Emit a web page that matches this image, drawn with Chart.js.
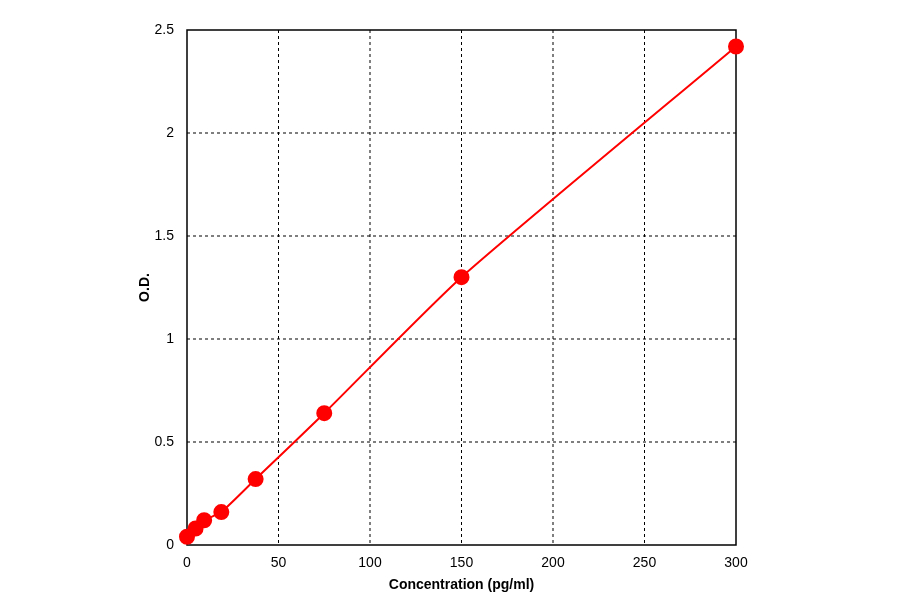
<!DOCTYPE html>
<html>
<head>
<meta charset="utf-8">
<script src="https://cdn.jsdelivr.net/npm/chart.js@4/dist/chart.umd.min.js"></script>
<style>
  html, body { margin: 0; padding: 0; background: #fff; }
  #wrap { width: 900px; height: 594px; }
</style>
</head>
<body>
<div id="wrap"><canvas id="c" width="900" height="594"></canvas></div>
<script>
// ── Datos de la curva estándar ──────────────────────────────────────────────
const concentraciones = [0, 4.69, 9.38, 18.75, 37.5, 75, 150, 300];
const densidades      = [0.04, 0.08, 0.12, 0.16, 0.32, 0.64, 1.30, 2.42];

const puntos = concentraciones.map((x, i) => ({ x: x, y: densidades[i] }));

new Chart(document.getElementById('c'), {
    type: 'scatter',
    data: {
        datasets: [{
            data: puntos,
            showLine: true,
            clip: false,
            borderColor: '#ff0000',
            backgroundColor: '#ff0000',
            borderWidth: 2,
            pointRadius: 7,
            pointHoverRadius: 7,
            tension: 0.2,
        }]
    },
    options: {
        responsive: false,
        animation: false,
        plugins: { legend: { display: false }, tooltip: { enabled: false } },
        layout: { padding: { top: 30, right: 164, left: 137, bottom: 0 } },
        scales: {
            x: {
                type: 'linear',
                min: 0, max: 300,
                afterFit: s => { s.height = 49; },
                border: { display: false },
                grid: { display: false },
                ticks: { stepSize: 50, color: '#000', padding: 2, font: { family: 'Arial, Liberation Sans', size: 14 } },
                title: { display: true, text: 'Concentration (pg/ml)', color: '#000', padding: { top: 4, bottom: 0 },
                         font: { family: 'Arial, Liberation Sans', size: 14, weight: 'bold' } }
            },
            y: {
                min: 0, max: 2.5,
                afterFit: s => { s.width = 50; },
                border: { display: false },
                grid: { display: false },
                ticks: { stepSize: 0.5, color: '#000', padding: 5, callback: v => String(v),
                         font: { family: 'Arial, Liberation Sans', size: 14 } },
                title: { display: true, text: 'O.D.', color: '#000', padding: 0,
                         font: { family: 'Arial, Liberation Sans', size: 14, weight: 'bold' } }
            }
        }
    },
    plugins: [{
        // rejilla punteada y marco del área
        id: 'marco',
        beforeDatasetsDraw(chart) {
            const { ctx, chartArea: a, scales } = chart;
            ctx.save();
            ctx.strokeStyle = '#000';
            ctx.lineWidth = 1;
            ctx.setLineDash([3, 3]);
            scales.x.ticks.forEach(t => {
                const px = scales.x.getPixelForValue(t.value);
                if (t.value === 0 || t.value === 300) return;
                ctx.beginPath(); ctx.moveTo(px, a.top); ctx.lineTo(px, a.bottom); ctx.stroke();
            });
            scales.y.ticks.forEach(t => {
                const py = scales.y.getPixelForValue(t.value);
                if (t.value === 0 || t.value === 2.5) return;
                ctx.beginPath(); ctx.moveTo(a.left, py); ctx.lineTo(a.right, py); ctx.stroke();
            });
            ctx.setLineDash([]);
            ctx.lineWidth = 1.5;
            ctx.strokeRect(a.left, a.top, a.right - a.left, a.bottom - a.top);
            ctx.restore();
        }
    }]
});
</script>
</body>
</html>
